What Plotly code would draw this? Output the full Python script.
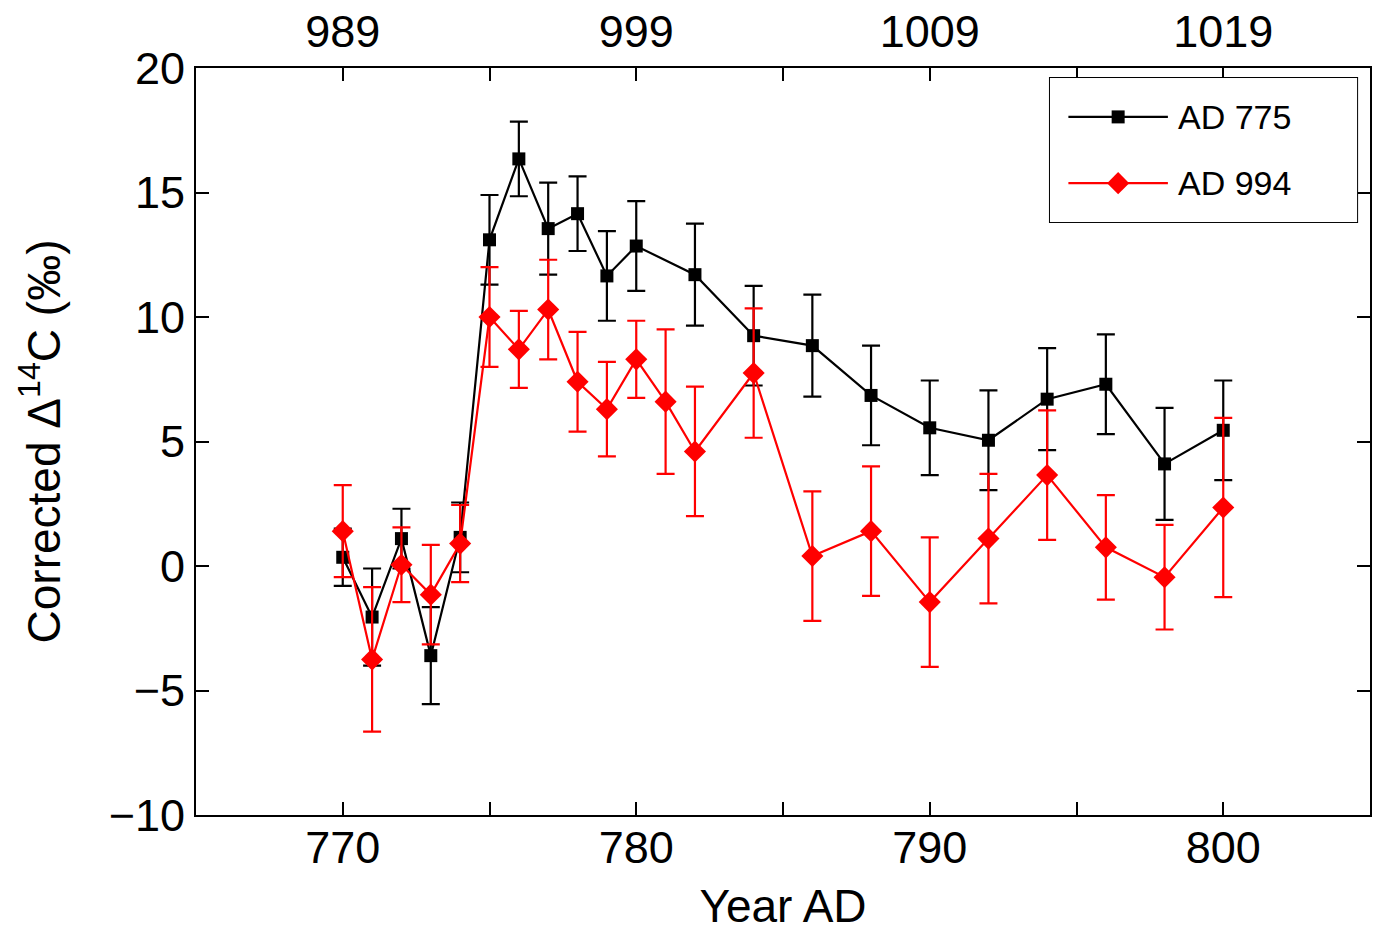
import plotly.graph_objects as go

# AD 775 event record
years_775 = [770, 771, 772, 773, 774, 775, 776, 777, 778, 779, 780, 782, 784,
             786, 788, 790, 792, 794, 796, 798, 800]
d14c_775 = [0.35, -2.05, 1.1, -3.6, 1.15, 13.1, 16.35, 13.55, 14.15, 11.65, 12.85,
            11.7, 9.25, 8.85, 6.85, 5.55, 5.05, 6.7, 7.3, 4.1, 5.45]
err_775 = [1.15, 1.95, 1.2, 1.95, 1.4, 1.8, 1.5, 1.85, 1.5, 1.8, 1.8, 2.05, 2.0,
           2.05, 2.0, 1.9, 2.0, 2.05, 2.0, 2.25, 2.0]

# AD 994 event record (plotted on the 775 time base, offset 219 yr)
years_994 = [770, 771, 772, 773, 774, 775, 776, 777, 778, 779, 780, 781, 782, 784,
             786, 788, 790, 792, 794, 796, 798, 800]
d14c_994 = [1.4, -3.75, 0.05, -1.15, 0.9, 10.0, 8.7, 10.3, 7.4, 6.3, 8.3, 6.6, 4.6,
            7.75, 0.4, 1.4, -1.45, 1.1, 3.65, 0.75, -0.45, 2.35]
err_994 = [1.85, 2.9, 1.5, 2.0, 1.55, 2.0, 1.55, 2.0, 2.0, 1.9, 1.55, 2.9, 2.6, 2.6,
           2.6, 2.6, 2.6, 2.6, 2.6, 2.1, 2.1, 3.6]

label_ticks = [770, 780, 790, 800]
bottom_labels = ["770", "780", "790", "800"]
top_labels = ["989", "999", "1009", "1019"]
y_ticks = [-10, -5, 0, 5, 10, 15, 20]

series_names = ["AD 775", "AD 994"]
BLACK = "#000000"
RED = "#ff0000"
FONT = "Liberation Sans"

fig = go.Figure()

fig.add_trace(go.Scatter(
    x=years_775, y=d14c_775, mode="lines+markers", name=series_names[0],
    line=dict(color=BLACK, width=2.2),
    marker=dict(symbol="square", size=13, color=BLACK),
    error_y=dict(type="data", array=err_775, color=BLACK, thickness=2.2, width=9),
    showlegend=False,
))
fig.add_trace(go.Scatter(
    x=years_994, y=d14c_994, mode="lines+markers", name=series_names[1],
    line=dict(color=RED, width=2.2),
    marker=dict(symbol="diamond", size=17, color=RED),
    error_y=dict(type="data", array=err_994, color=RED, thickness=2.2, width=9),
    showlegend=False,
))

# legend drawn on its own small axis pair inside the box
leg_rows = [0.73, 0.27]
leg_styles = [("square", 13, BLACK), ("diamond", 17, RED)]
for name, row, (sym, size, col) in zip(series_names, leg_rows, leg_styles):
    fig.add_trace(go.Scatter(
        x=[0.06, 0.384], y=[row, row], mode="lines",
        line=dict(color=col, width=2.2),
        xaxis="x3", yaxis="y3", showlegend=False, hoverinfo="skip",
    ))
    fig.add_trace(go.Scatter(
        x=[0.222], y=[row], mode="markers",
        marker=dict(symbol=sym, size=size, color=col, opacity=1),
        xaxis="x3", yaxis="y3", showlegend=False, hoverinfo="skip",
    ))
    fig.add_annotation(
        x=0.41, y=row, xref="x3", yref="y3", text=name, showarrow=False,
        xanchor="left", yanchor="middle",
        font=dict(family=FONT, size=34, color=BLACK),
    )

axis_common = dict(
    showgrid=False, zeroline=False, showline=True, linecolor=BLACK, linewidth=2,
    ticks="inside", ticklen=13, tickwidth=2, tickcolor=BLACK, automargin=False,
    tickfont=dict(family=FONT, size=45, color=BLACK),
)
minor_x = dict(ticks="inside", ticklen=13, tickwidth=2, tickcolor=BLACK,
               tick0=765, dtick=5, showgrid=False)

fig.update_layout(
    width=1380, height=932,
    margin=dict(l=196, r=10, t=68, b=117),
    paper_bgcolor="white", plot_bgcolor="white",
    font=dict(family=FONT, color=BLACK),
    xaxis=dict(
        range=[765, 805], tickmode="array", tickvals=label_ticks,
        ticktext=bottom_labels, mirror=True, minor=minor_x,
        ticklabelstandoff=-8,
        title=dict(text="Year AD", font=dict(family=FONT, size=46, color=BLACK),
                   standoff=21),
        **axis_common,
    ),
    xaxis2=dict(
        range=[765, 805], tickmode="array", tickvals=label_ticks,
        ticktext=top_labels, overlaying="x", side="top", anchor="y",
        minor=minor_x, ticklabelstandoff=1,
        **axis_common,
    ),
    yaxis=dict(
        range=[-10, 20], tickmode="array", tickvals=y_ticks, mirror="ticks",
        title=dict(text="Corrected Δ<sup>14</sup>C (‰)",
                   font=dict(family=FONT, size=46, color=BLACK), standoff=34),
        **axis_common,
    ),
    xaxis3=dict(domain=[0.7274, 0.989], range=[0, 1], visible=False,
                anchor="y3", fixedrange=True),
    yaxis3=dict(domain=[0.7938, 0.9866], range=[0, 1], visible=False,
                anchor="x3", fixedrange=True),
    shapes=[dict(type="rect", xref="paper", yref="paper",
                 x0=0.7274, x1=0.989, y0=0.7938, y1=0.9866,
                 line=dict(color=BLACK, width=2), layer="below",
                 fillcolor="white")],
)

# keep the top axis populated so it is drawn with its own labels
fig.add_trace(go.Scatter(x=[765, 805], y=[None, None], xaxis="x2", yaxis="y",
                         mode="lines", showlegend=False, hoverinfo="skip"))

fig.write_html("out.html")
